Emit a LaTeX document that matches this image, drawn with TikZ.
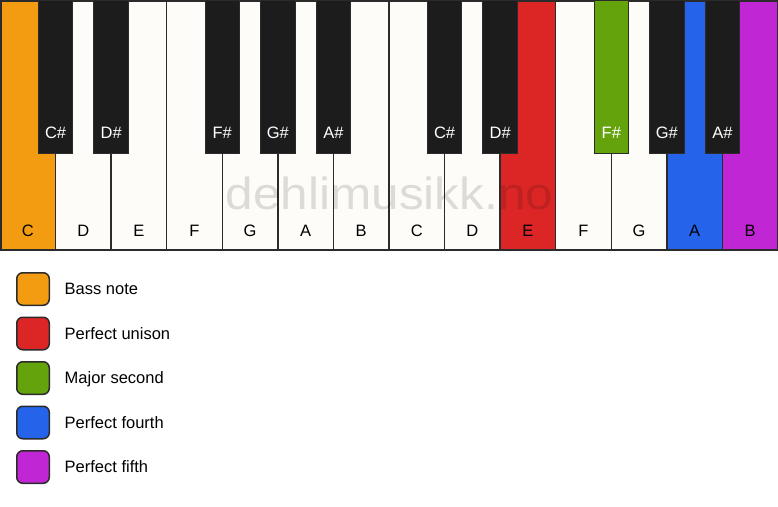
\documentclass[tikz,border=0pt]{standalone}
\usepackage{fontspec}
\setmainfont{Liberation Sans}
\usetikzlibrary{positioning}
\definecolor{keyline}{HTML}{2B2B2B}
\definecolor{keywhite}{HTML}{FDFCF8}
\definecolor{keyblack}{HTML}{1C1C1C}
\definecolor{bassorange}{HTML}{F39C12}
\definecolor{unisonred}{HTML}{DC2626}
\definecolor{secondgreen}{HTML}{65A30D}
\definecolor{fourthblue}{HTML}{2563EB}
\definecolor{fifthpurple}{HTML}{C026D3}
\tikzset{
	whitekey/.style={draw=keyline, line width=1.5pt, fill=keywhite},
	blackkey/.style={draw=keyline, line width=1pt, fill=keyblack},
	wlabel/.style={font=\fontsize{16.5}{19}\selectfont, text=black, inner sep=0pt, text height=11.8pt, text depth=0pt},
	blabel/.style={font=\fontsize{16.5}{19}\selectfont, text=white, inner sep=0pt, text height=11.8pt, text depth=0pt},
	legendbox/.style={draw=keyline, line width=1.5pt, rounded corners=6pt, minimum size=32.5pt, inner sep=0pt},
	legendtext/.style={font=\fontsize{16.5}{19}\selectfont, inner sep=0pt, text height=11.8pt, text depth=0pt},
	watermark/.style={font=\fontsize{45}{50}\selectfont, text=black, text opacity=0.13, inner sep=0pt, xscale=1.1}
}

\begin{document}
\begin{tikzpicture}[x=1pt, y=-1pt]
	%%%%% START %%%%%
	\useasboundingbox[fill=white] (0,0) rectangle (778,506);
	
	%%%%% white keys
	\draw[whitekey, fill=bassorange] (0.75, 0.75) rectangle (55.57, 250);
	\draw[whitekey] (55.57, 0.75) rectangle (111.14, 250);
	\draw[whitekey] (111.14, 0.75) rectangle (166.71, 250);
	\draw[whitekey] (166.71, 0.75) rectangle (222.29, 250);
	\draw[whitekey] (222.29, 0.75) rectangle (277.86, 250);
	\draw[whitekey] (277.86, 0.75) rectangle (333.43, 250);
	\draw[whitekey] (333.43, 0.75) rectangle (389.0, 250);
	\draw[whitekey] (389.0, 0.75) rectangle (444.57, 250);
	\draw[whitekey] (444.57, 0.75) rectangle (500.14, 250);
	\draw[whitekey, fill=unisonred] (500.14, 0.75) rectangle (555.71, 250);
	\draw[whitekey] (555.71, 0.75) rectangle (611.29, 250);
	\draw[whitekey] (611.29, 0.75) rectangle (666.86, 250);
	\draw[whitekey, fill=fourthblue] (666.86, 0.75) rectangle (722.43, 250);
	\draw[whitekey, fill=fifthpurple] (722.43, 0.75) rectangle (777.25, 250);
	
	\node[wlabel] (lblC1) at (27.79, 230.5) {C};
	\node[wlabel] (lblD1) at (83.36, 230.5) {D};
	\node[wlabel] (lblE1) at (138.93, 230.5) {E};
	\node[wlabel] (lblF1) at (194.5, 230.5) {F};
	\node[wlabel] (lblG1) at (250.07, 230.5) {G};
	\node[wlabel] (lblA1) at (305.64, 230.5) {A};
	\node[wlabel] (lblB1) at (361.21, 230.5) {B};
	\node[wlabel] (lblC2) at (416.79, 230.5) {C};
	\node[wlabel] (lblD2) at (472.36, 230.5) {D};
	\node[wlabel] (lblE2) at (527.93, 230.5) {E};
	\node[wlabel] (lblF2) at (583.5, 230.5) {F};
	\node[wlabel] (lblG2) at (639.07, 230.5) {G};
	\node[wlabel] (lblA2) at (694.64, 230.5) {A};
	\node[wlabel] (lblB2) at (750.21, 230.5) {B};
	
	%%%%% watermark
	\node[watermark, anchor=base] (wmark) at (389.5, 209) {dehlimusikk.no};
	
	%%%%% black keys
	\draw[blackkey] (38.37, 0.5) rectangle (72.77, 153);
	\draw[blackkey] (93.94, 0.5) rectangle (128.34, 153);
	\draw[blackkey] (205.09, 0.5) rectangle (239.49, 153);
	\draw[blackkey] (260.66, 0.5) rectangle (295.06, 153);
	\draw[blackkey] (316.23, 0.5) rectangle (350.63, 153);
	\draw[blackkey] (427.37, 0.5) rectangle (461.77, 153);
	\draw[blackkey] (482.94, 0.5) rectangle (517.34, 153);
	\draw[blackkey, fill=secondgreen] (594.09, 0.5) rectangle (628.49, 153);
	\draw[blackkey] (649.66, 0.5) rectangle (684.06, 153);
	\draw[blackkey] (705.23, 0.5) rectangle (739.63, 153);
	
	\node[blabel] (lblCs1) at (55.57, 133) {C\#};
	\node[blabel] (lblDs1) at (111.14, 133) {D\#};
	\node[blabel] (lblFs1) at (222.29, 133) {F\#};
	\node[blabel] (lblGs1) at (277.86, 133) {G\#};
	\node[blabel] (lblAs1) at (333.43, 133) {A\#};
	\node[blabel] (lblCs2) at (444.57, 133) {C\#};
	\node[blabel] (lblDs2) at (500.14, 133) {D\#};
	\node[blabel] (lblFs2) at (611.29, 133) {F\#};
	\node[blabel] (lblGs2) at (666.86, 133) {G\#};
	\node[blabel] (lblAs2) at (722.43, 133) {A\#};
	
	%%%%% legend
	\node[legendbox, fill=bassorange] (boxBass) at (33, 289) {};
	\node[legendbox, fill=unisonred] (boxUnison) at (33, 333.5) {};
	\node[legendbox, fill=secondgreen] (boxSecond) at (33, 378) {};
	\node[legendbox, fill=fourthblue] (boxFourth) at (33, 422.5) {};
	\node[legendbox, fill=fifthpurple] (boxFifth) at (33, 467) {};
	
	\node[legendtext, right=14.5pt of boxBass] (txtBass) {Bass note};
	\node[legendtext, right=14.5pt of boxUnison] (txtUnison) {Perfect unison};
	\node[legendtext, right=14.5pt of boxSecond] (txtSecond) {Major second};
	\node[legendtext, right=14.5pt of boxFourth] (txtFourth) {Perfect fourth};
	\node[legendtext, right=14.5pt of boxFifth] (txtFifth) {Perfect fifth};
	
	%%%%% END %%%%%
\end{tikzpicture}
\end{document}
